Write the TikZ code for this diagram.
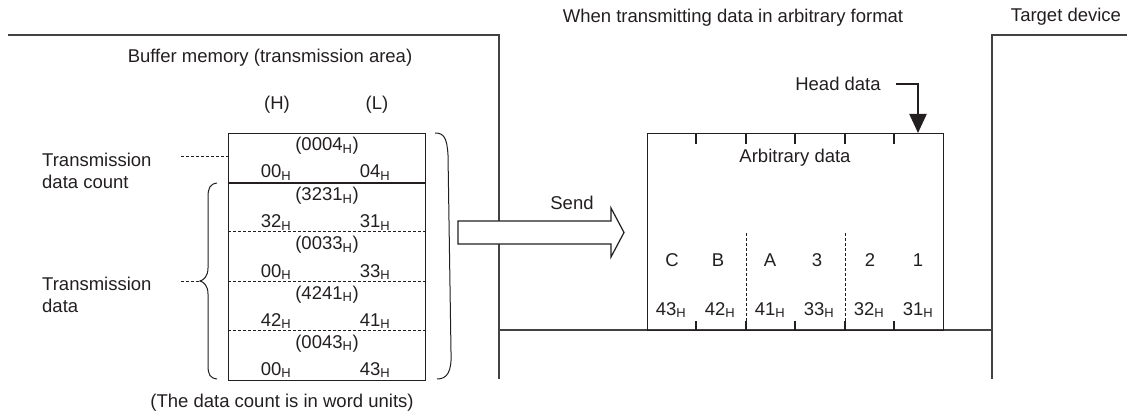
\documentclass[tikz,border=0pt]{standalone}
\usepackage{fontspec}
\setmainfont{Liberation Sans}
\usetikzlibrary{arrows.meta}
\definecolor{ink}{HTML}{231F20}
\tikzset{
  lbl/.style={inner sep=0pt, font=\fontsize{18.5}{22}\selectfont, text=ink},
  ln/.style={line width=1.2pt, draw=ink},
  frame/.style={line width=1.5pt, draw=ink!85},
  dsh/.style={line width=1pt, draw=ink, dash pattern=on 3pt off 2pt},
}
\newcommand\hx[1]{#1\textsubscript{H}}
\begin{document}
\begin{tikzpicture}[x=1pt,y=-1pt]
\useasboundingbox (0,0) rectangle (1127,414);

% titles
\node[lbl] (title) at (733,18) {When transmitting data in arbitrary format};
\node[lbl] (target) at (1066,17) {Target device};
\node[lbl] (buffer) at (270,58) {Buffer memory (transmission area)};
\node[lbl] (hi) at (277,105) {(H)};
\node[lbl] (lo) at (377,105) {(L)};

% frames
\draw[frame] (8,35) -- (499,35) -- (499,379);
\draw[frame] (1127,35) -- (992,35) -- (992,379);
\draw[frame] (499,330) -- (992,330);

% memory table
\node[ln, draw, minimum width=197pt, minimum height=247pt, anchor=north west, inner sep=0pt] (tbl) at (228,133) {};
\draw[ln] (228,183) -- (425,183);
\foreach \yy in {232,281,330} \draw[dsh] (228,\yy) -- (425,\yy);

\foreach \r/\w/\h/\l [count=\i] in {133/0004/00/04, 183/3231/32/31, 232/0033/00/33, 281/4241/42/41, 330/0043/00/43}{
  \node[lbl, anchor=base] (w\i) at (327,\r+18) {(\hx{\w})};
  \node[lbl, anchor=base] (h\i) at (276,\r+45) {\hx{\h}};
  \node[lbl, anchor=base] (l\i) at (375,\r+45) {\hx{\l}};
}
\node[lbl] (note) at (282,403) {(The data count is in word units)};

% left labels
\node[lbl, align=left, anchor=west] (cnt) at (42,171) {Transmission\\data count};
\node[lbl, align=left, anchor=west] (dat) at (42,294.5) {Transmission\\data};
\coordinate (cntend) at (181,157);
\draw[dsh] (cntend) -- (tbl.west |- cntend);
\coordinate (datend) at (181,281);
\coordinate (brtip) at (200,281);
\draw[dsh] (datend) -- (brtip);

% left brace
\draw[ln, line width=1pt] (217,183) .. controls (210,184) and (208,188) .. (208,197)
  -- (208,268) .. controls (208,276) and (204,280) .. (brtip)
  .. controls (204,282) and (208,286) .. (208,294)
  -- (208,365) .. controls (208,375) and (210,378) .. (217,379);

% right parenthesis
\draw[ln, line width=1pt] (435,133) .. controls (444,133) and (447,138) .. (448,155)
  -- (451,352) .. controls (452,372) and (447,379) .. (437,379);

% send arrow
\node[lbl] (send) at (572,203) {Send};
\draw[ln, fill=white] (458,221) -- (611,221) -- (611,208) -- (624,232.5) -- (611,257) -- (611,244) -- (458,244) -- cycle;

% data box
\node[ln, draw, minimum width=296pt, minimum height=197pt, anchor=north west, inner sep=0pt] (db) at (647,133) {};
\foreach \xx in {696,746,795,845,894}{
  \draw[ln] (\xx,133) -- (\xx,144);
  \draw[ln] (\xx,330) -- (\xx,321);
}
\draw[dsh] (746,233) -- (746,330);
\draw[dsh] (845,233) -- (845,330);
\node[lbl] (arb) at (795,158) {Arbitrary data};
\foreach \c/\xx [count=\i] in {C/672,B/718,A/770,3/817,2/870,1/918}
  \node[lbl, anchor=base] (ch\i) at (\xx,266.5) {\c};
\foreach \v/\xx [count=\i] in {43/671,42/720,41/770,33/819,32/869,31/918}
  \node[lbl, anchor=base] (hx\i) at (\xx,315) {\hx{\v}};

% head data
\node[lbl] (head) at (838,84) {Head data};
\coordinate (hds) at (896,84);
\coordinate (hdc) at (918,84);
\draw[line width=2.2pt, draw=ink, -{Triangle[width=17pt,length=19pt]}] (hds) -- (hdc) -- (hdc |- db.north);
\end{tikzpicture}
\end{document}
